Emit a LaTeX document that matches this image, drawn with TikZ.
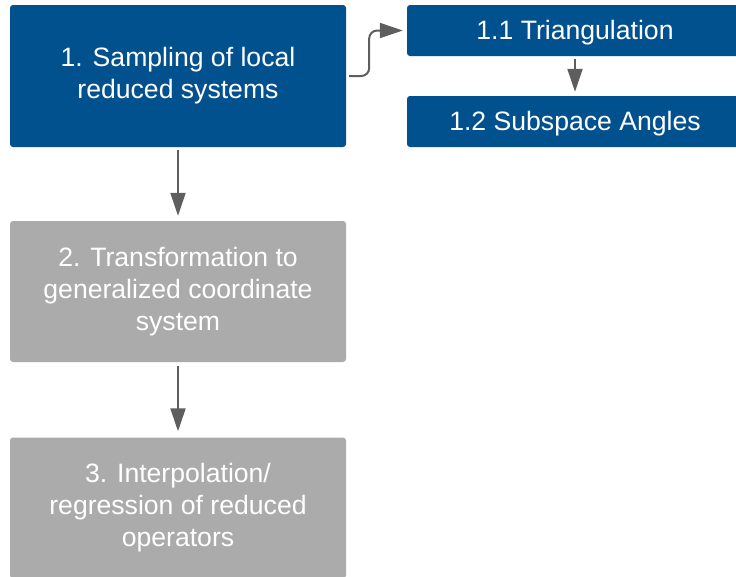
\documentclass[tikz,border=0pt]{standalone}
\usepackage{fontspec}
\setmainfont{Liberation Sans}
\usetikzlibrary{arrows.meta}
\definecolor{stepblue}{HTML}{02518F}
\definecolor{stepgray}{HTML}{ABABAB}
\definecolor{linkgray}{HTML}{5E5E5E}
\begin{document}
\begin{tikzpicture}[x=1pt,y=-1pt,
  box/.style={rectangle, rounded corners=3pt, inner sep=0pt, text=white,
    align=center, font=\fontsize{26.6}{32}\selectfont},
  bluebox/.style={box, fill=stepblue},
  graybox/.style={box, fill=stepgray},
  substep/.style={bluebox, minimum width=336pt, minimum height=51pt,
    text height=23pt, text depth=5.6pt},
  link/.style={draw=linkgray, line width=2pt,
    -{Triangle[length=23pt,width=15pt]}}]
\useasboundingbox (0,0) rectangle (736,576);
\clip (0,0) rectangle (736,576);

% main steps
\node[bluebox, minimum width=336pt, minimum height=142pt] (s1) at (178,76)
  {1. Sampling of local\\reduced systems};
\node[graybox, minimum width=336pt, minimum height=141pt] (s2) at (178,291.5)
  {2. Transformation to\\generalized coordinate\\system};
\node[graybox, minimum width=336pt, minimum height=141pt] (s3) at (178,508)
  {3. Interpolation/\\regression of reduced\\operators};

% sub-steps of step 1
\node[substep] (s11) at (575,30.5) {1.1 Triangulation};
\node[substep] (s12) at (575,121.5) {1.2 Subspace Angles};

% connectors
\draw[link, shorten <=3pt, shorten >=5pt] (s1) -- (s2);
\draw[link, shorten <=4pt, shorten >=6pt] (s2) -- (s3);
\draw[link, shorten <=3pt, shorten >=4pt] (s11) -- (s12);
\draw[link, rounded corners=8pt, shorten <=3pt, shorten >=4pt]
  (s1.east) -- ++(23,0) |- (s11.west);
\end{tikzpicture}
\end{document}
